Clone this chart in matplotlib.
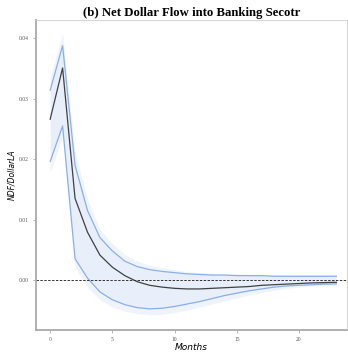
import matplotlib
matplotlib.use("Agg")
import matplotlib.pyplot as plt
import numpy as np

months = list(range(24))
mean_irf = [0.0266, 0.0351, 0.0135, 0.0079, 0.0041, 0.0021, 0.0007, -0.0003, -0.0009, -0.0012,
            -0.0014, -0.0015, -0.0015, -0.0014, -0.0013, -0.0012, -0.0011, -0.0009, -0.0008, -0.0007,
            -0.0006, -0.0005, -0.00045, -0.0004]
upper_inner = [0.0314, 0.0388, 0.0190, 0.0115, 0.0070, 0.0048, 0.0031, 0.0022, 0.0017, 0.0014,
               0.0012, 0.0010, 0.0009, 0.0008, 0.0008, 0.0007, 0.0007, 0.0007, 0.0006, 0.0006,
               0.0006, 0.0006, 0.0006, 0.0006]
lower_inner = [0.0196, 0.0255, 0.0035, 0.0003, -0.0020, -0.0033, -0.0041, -0.0046, -0.0048, -0.0047,
               -0.0044, -0.0040, -0.0036, -0.0031, -0.0026, -0.0022, -0.0018, -0.0015, -0.0012, -0.0010,
               -0.0009, -0.0008, -0.0007, -0.00066]
upper_outer = [0.0337, 0.0409, 0.0212, 0.0133, 0.0084, 0.0060, 0.0042, 0.0031, 0.0024, 0.0020,
               0.0017, 0.0014, 0.0012, 0.0011, 0.0010, 0.0010, 0.0009, 0.0009, 0.0009, 0.0009,
               0.0009, 0.0009, 0.0009, 0.0009]
lower_outer = [0.0178, 0.0237, 0.0020, -0.0012, -0.0033, -0.0045, -0.0052, -0.0056, -0.0058, -0.0057,
               -0.0054, -0.0050, -0.0045, -0.0040, -0.0035, -0.0030, -0.0025, -0.0021, -0.0017, -0.0014,
               -0.0012, -0.0010, -0.0009, -0.0009]
yticks = [0.00, 0.01, 0.02, 0.03, 0.04]
xticks = [0, 5, 10, 15, 20]

fig = plt.figure(figsize=(3.48, 3.52), dpi=100)
ax = fig.add_axes([0.103, 0.0625, 0.894, 0.880])

band = "#6f9fe6"
ax.fill_between(months, lower_outer, upper_outer, color=band, alpha=0.11, lw=0)
ax.fill_between(months, lower_inner, upper_inner, color=band, alpha=0.05, lw=0)
ax.plot(months, upper_inner, color=band, lw=0.9, alpha=0.8)
ax.plot(months, lower_inner, color=band, lw=0.9, alpha=0.8)
ax.plot(months, mean_irf, color="#222222", lw=0.9, alpha=0.85)
ax.axhline(0, color="#333333", lw=0.7, ls=(0, (2.5, 1.5)))

ax.set_xlim(-1.15, 23.85)
ax.set_ylim(-0.0083, 0.043)
ax.set_xticks(xticks)
ax.set_xticklabels([str(t) for t in xticks], family="Liberation Serif", fontsize=4, color="#555555")
ax.set_yticks(yticks)
ax.set_yticklabels([f"{t:.2f}" for t in yticks], family="Liberation Serif", fontsize=4, color="#555555")
ax.tick_params(axis="both", length=2, width=0.5, color="#999999", pad=3)

for s in ["left", "bottom"]:
    ax.spines[s].set_color("#aaaaaa")
    ax.spines[s].set_linewidth(1.3)
for s in ["top", "right"]:
    ax.spines[s].set_color("#cccccc")
    ax.spines[s].set_linewidth(0.6)

ax.set_xlabel("Months", fontsize=6.5, style="italic", family="DejaVu Sans", labelpad=1)
ax.set_ylabel("NDF/DollarLA", fontsize=5.5, style="italic", family="DejaVu Sans", labelpad=2)
ax.set_title("(b) Net Dollar Flow into Banking Secotr", family="Liberation Serif",
             fontweight="bold", fontsize=9.2, pad=3)

fig.savefig("out.png", dpi=100)
